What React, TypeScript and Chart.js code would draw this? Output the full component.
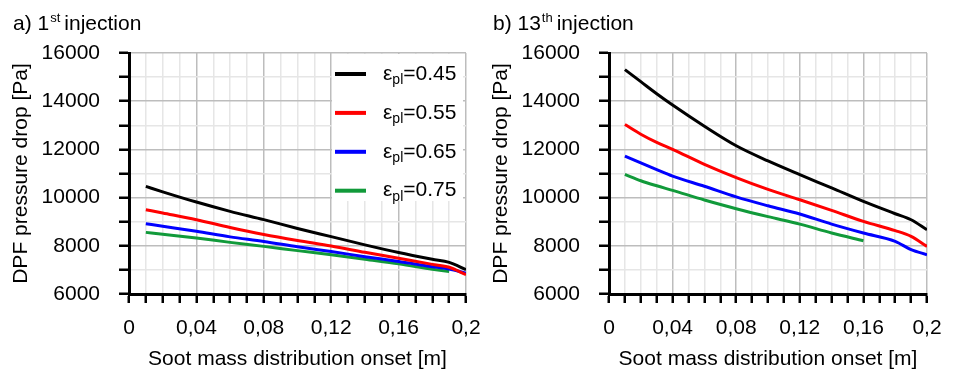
import React, { useEffect, useRef } from "react";
import { Chart, registerables } from "chart.js";

Chart.register(...registerables);

// ---------- data ----------
const seriesValues = ["0.45", "0.55", "0.65", "0.75"];
const seriesColors = ["#000000", "#ff0000", "#0000ff", "#119a3a"];

// Panel a) 1st injection
const xA = [0.01, 0.02, 0.04, 0.06, 0.08, 0.10, 0.12, 0.14, 0.16, 0.18, 0.19, 0.20];
const a045 = [10465, 10240, 9815, 9430, 9085, 8720, 8380, 8040, 7720, 7440, 7310, 7010];
const a055 = [9497, 9360, 9083, 8760, 8470, 8220, 7990, 7730, 7480, 7230, 7110, 6800];
const a065 = [8917, 8810, 8600, 8370, 8180, 7960, 7760, 7550, 7350, 7130, 7040, 6860];
const a075 = [8557, 8480, 8322, 8142, 7976, 7800, 7630, 7440, 7250, 7030, 6930];

// Panel b) 13th injection
const xB = [0.01, 0.02, 0.03, 0.04, 0.06, 0.08, 0.10, 0.12, 0.14, 0.16, 0.18, 0.19, 0.20];
const b045 = [15310, 14810, 14310, 13840, 12960, 12150, 11520, 10950, 10400, 9840, 9330, 9080, 8665];
const b055 = [13030, 12630, 12290, 12000, 11380, 10830, 10340, 9910, 9470, 9015, 8630, 8390, 7975];
const b065 = [11720, 11440, 11160, 10890, 10470, 10030, 9660, 9320, 8900, 8530, 8185, 7840, 7630];
const b075 = [10960, 10700, 10490, 10300, 9900, 9540, 9210, 8900, 8530, 8212];

const xTickMajor = 0.04;
const yTickMajor = 2000;

const FONT = "'Liberation Sans', Arial, Helvetica, sans-serif";
const FS = 21;

function pts(xs: number[], ys: number[]) {
  return ys.map((y, i) => ({ x: xs[i], y }));
}

const isMajor = (v: number, step: number) =>
  Math.abs(v / step - Math.round(v / step)) < 1e-6;

function makeTitlePlugin(prefix: string, sup: string, suffix: string) {
  return {
    id: "supTitle",
    afterDraw(chart: any) {
      const ctx = chart.ctx;
      ctx.save();
      ctx.fillStyle = "#000";
      ctx.textBaseline = "alphabetic";
      let x = 13;
      const y = 30;
      ctx.font = `${FS}px ${FONT}`;
      ctx.fillText(prefix, x, y);
      x += ctx.measureText(prefix).width + 1;
      ctx.font = `13px ${FONT}`;
      ctx.fillText(sup, x, y - 8);
      x += ctx.measureText(sup).width + 4;
      ctx.font = `${FS}px ${FONT}`;
      ctx.fillText(suffix, x, y);
      ctx.restore();
    },
  };
}

const legendPlugin = {
  id: "epsLegend",
  afterDatasetsDraw(chart: any) {
    const ctx = chart.ctx;
    const ca = chart.chartArea;
    ctx.save();
    ctx.fillStyle = "#ffffff";
    ctx.fillRect(ca.right - 134, ca.top + 1, 131, 147);
    const x0 = ca.right - 131;
    chart.data.datasets.forEach((ds: any, i: number) => {
      const y = ca.top + 21 + i * 38.9;
      ctx.strokeStyle = ds.borderColor;
      ctx.lineWidth = 4;
      ctx.beginPath();
      ctx.moveTo(x0, y);
      ctx.lineTo(x0 + 31, y);
      ctx.stroke();
      ctx.fillStyle = "#000";
      ctx.textBaseline = "middle";
      let x = x0 + 48;
      ctx.font = `${FS}px ${FONT}`;
      ctx.fillText("ε", x, y);
      x += ctx.measureText("ε").width;
      ctx.font = `14px ${FONT}`;
      ctx.fillText("pl", x, y + 6);
      x += ctx.measureText("pl").width;
      ctx.font = `${FS}px ${FONT}`;
      ctx.fillText("=" + seriesValues[i], x, y);
    });
    ctx.restore();
  },
};

function buildConfig(datasets: any[], plugins: any[]) {
  return {
    type: "line",
    data: {
      datasets: datasets.map((d, i) => ({
        label: seriesValues[i],
        data: d,
        borderColor: seriesColors[i],
        backgroundColor: seriesColors[i],
        borderWidth: 3,
        pointRadius: 0,
        cubicInterpolationMode: "monotone",
        fill: false,
      })),
    },
    options: {
      responsive: false,
      animation: false,
      maintainAspectRatio: false,
      layout: { padding: { left: 9, right: 34, top: 53, bottom: 2 } },
      plugins: { legend: { display: false }, tooltip: { enabled: false }, title: { display: false } },
      scales: {
        x: {
          type: "linear",
          min: 0,
          max: 0.2,
          afterFit(scale: any) {
            scale.height = 78;
          },
          ticks: {
            stepSize: 0.01,
            autoSkip: false,
            maxRotation: 0,
            padding: 13,
            color: "#000",
            font: { size: FS, family: FONT },
            callback: (v: any) => {
              const n = Number(v);
              if (!isMajor(n, xTickMajor)) return "";
              return String(+n.toFixed(2)).replace(".", ",");
            },
          },
          grid: {
            color: (c: any) => (c.tick && isMajor(c.tick.value, xTickMajor) ? "#bdbdbd" : "#e6e6e6"),
            lineWidth: 1.5,
            tickLength: 9,
            tickColor: "#000",
            tickWidth: 2.5,
          },
          border: { color: "#000", width: 3 },
          title: {
            display: true,
            text: "Soot mass distribution onset [m]",
            color: "#000",
            font: { size: FS, family: FONT },
            padding: 0,
          },
        },
        y: {
          min: 6000,
          max: 16000,
          afterFit(scale: any) {
            scale.width = 120;
          },
          ticks: {
            stepSize: 1000,
            autoSkip: false,
            padding: 19,
            color: "#000",
            font: { size: FS, family: FONT },
            callback: (v: any) => {
              const n = Number(v);
              return isMajor(n, yTickMajor) ? String(n) : "";
            },
          },
          grid: {
            color: (c: any) => (c.tick && isMajor(c.tick.value, yTickMajor) ? "#bdbdbd" : "#e6e6e6"),
            lineWidth: 1.5,
            tickLength: 10,
            tickColor: "#000",
            tickWidth: 2.5,
          },
          border: { color: "#000", width: 3 },
          title: {
            display: true,
            text: "DPF pressure drop [Pa]",
            color: "#000",
            font: { size: FS, family: FONT },
            padding: 0,
          },
        },
      },
    },
    plugins,
  };
}

function Panel(props: { left: number; width: number; config: any }) {
  const ref = useRef<HTMLCanvasElement | null>(null);
  useEffect(() => {
    if (!ref.current) return;
    const chart = new Chart(ref.current, props.config);
    return () => chart.destroy();
  }, []);
  return (
    <canvas
      ref={ref}
      width={props.width}
      height={374}
      style={{ position: "absolute", left: props.left, top: 0, width: props.width, height: 374 }}
    />
  );
}

export default function App() {
  useEffect(() => {
    document.body.style.margin = "0";
    document.body.style.background = "#fff";
  }, []);
  const cfgA = buildConfig(
    [pts(xA, a045), pts(xA, a055), pts(xA, a065), pts(xA, a075)],
    [makeTitlePlugin("a) 1", "st", "injection"), legendPlugin]
  );
  const cfgB = buildConfig(
    [pts(xB, b045), pts(xB, b055), pts(xB, b065), pts(xB, b075)],
    [makeTitlePlugin("b) 13", "th", "injection")]
  );
  return (
    <div style={{ position: "relative", width: 961, height: 374, background: "#fff" }}>
      <Panel left={0} width={500} config={cfgA} />
      <Panel left={480} width={481} config={cfgB} />
    </div>
  );
}
